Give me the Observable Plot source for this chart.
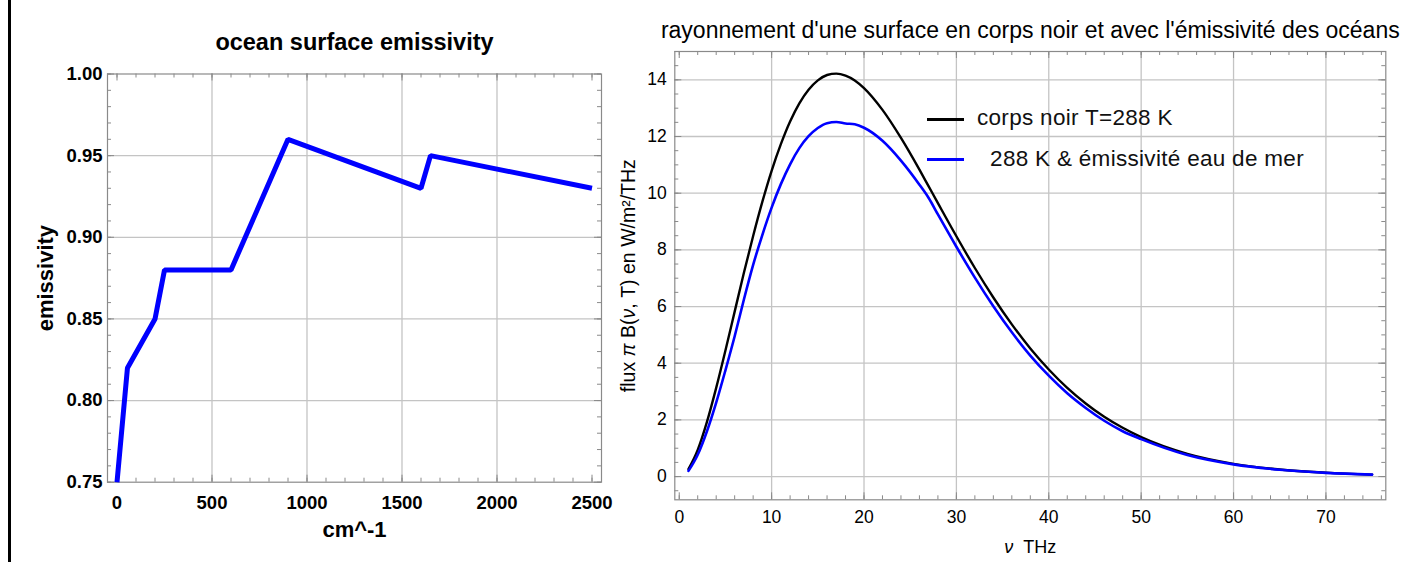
<!DOCTYPE html>
<html><head><meta charset="utf-8">
<script src="https://cdn.jsdelivr.net/npm/d3@7"></script>
<script src="https://cdn.jsdelivr.net/npm/@observablehq/plot@0.6"></script>
<style>
body{margin:0;background:#fff;}
#wrap{position:relative;width:1426px;height:562px;overflow:hidden;background:#fff;font-family:"Liberation Sans",Arial,sans-serif;}
#border{position:absolute;left:8px;top:0;width:2.5px;height:562px;background:#000;}
#left{position:absolute;left:0;top:0;}
#right{position:absolute;left:620px;top:0;}
.legline{position:absolute;height:3px;width:37px;}
.legtext{position:absolute;font-size:22.5px;letter-spacing:0.3px;white-space:pre;line-height:1;color:#111;}
</style></head>
<body>
<div id="wrap">
  <div id="border"></div>
  <div id="left"></div>
  <div id="right"></div>
  <div class="legline" style="left:927px;top:118px;background:#000;"></div>
  <div class="legtext" style="left:977px;top:107px;">corps noir T=288 K</div>
  <div class="legline" style="left:927px;top:158px;background:#0000ff;"></div>
  <div class="legtext" style="left:977px;top:148px;">  288 K &amp; émissivité eau de mer</div>
</div>
<script>
// ---- left panel: ocean surface emissivity ----
const emisWavenumber = [0, 55, 200, 250, 600, 900, 1600, 1650, 2500];
const emisValue      = [0.75, 0.82, 0.85, 0.88, 0.88, 0.96, 0.93, 0.95, 0.93];
const leftXTicks = [0, 500, 1000, 1500, 2000, 2500];
const leftYTicks = [0.75, 0.80, 0.85, 0.90, 0.95, 1.00];
const leftXGrid = [500, 1000, 1500, 2000];
const leftYGrid = [0.80, 0.85, 0.90, 0.95];
const leftTitle = "ocean surface emissivity";
const leftXLabel = "cm^-1";
const leftYLabel = "emissivity";

// ---- right panel: flux ----
const freqTHz = [1,2,3,4,5,6,7,8,9,10,11,12,13,14,15,16,17,18,19,20,22,24,26,27,28,30,32,34,36,38,40,42,44,46,48,50,55,60,65,70,75];
const fluxBlackbody = [0.26,0.94,1.93,3.13,4.45,5.82,7.19,8.49,9.70,10.79,11.73,12.53,13.17,13.65,13.98,14.17,14.22,14.15,13.98,13.71,12.94,11.95,10.83,10.24,9.65,8.48,7.36,6.32,5.37,4.52,3.78,3.13,2.58,2.11,1.72,1.39,0.80,0.45,0.25,0.14,0.07];
const fluxSeawater  = [0.20,0.77,1.60,2.61,3.75,4.95,6.25,7.47,8.53,9.49,10.32,11.02,11.59,12.01,12.30,12.47,12.51,12.46,12.43,12.31,11.85,11.15,10.30,9.83,9.25,8.11,7.02,6.01,5.09,4.27,3.56,2.94,2.42,1.97,1.60,1.32,0.76,0.43,0.24,0.13,0.07];
const rightXTicks = [0, 10, 20, 30, 40, 50, 60, 70];
const rightYTicks = [0, 2, 4, 6, 8, 10, 12, 14];
const rightTitle = "rayonnement d'une surface en corps noir et avec l'émissivité des océans";
const rightXLabel = "ν  THz";
const rightYLabel = "flux π B(ν, T) en W/m²/THz";

const FONT = "Liberation Sans, Arial, sans-serif";
const TICK = "#8a8a8a", GRID = "#c4c4c4";

function frameTicks(xMajor, xMinor, yMajor, yMinor, innerW, innerH) {
  const L = 7, l = 4;
  const m = [];
  const xs = [[xMajor, L], [xMinor, l]], ys = [[yMajor, L], [yMinor, l]];
  for (const [v, len] of xs) {
    m.push(Plot.ruleX(v, {x: d => d, insetTop: innerH - len, stroke: TICK, strokeWidth: 1}));
    m.push(Plot.ruleX(v, {x: d => d, insetBottom: innerH - len, stroke: TICK, strokeWidth: 1}));
  }
  for (const [v, len] of ys) {
    m.push(Plot.ruleY(v, {y: d => d, insetRight: innerW - len, stroke: TICK, strokeWidth: 1}));
    m.push(Plot.ruleY(v, {y: d => d, insetLeft: innerW - len, stroke: TICK, strokeWidth: 1}));
  }
  return m;
}

// Left plot
{
  const W = 620, H = 562, mL = 107, mR = 19, mT = 73.5, mB = 80.3;
  const iW = W - mL - mR, iH = H - mT - mB;
  const data = emisWavenumber.map((x, i) => ({x, y: emisValue[i]}));
  const xMinor = d3.range(0, 2501, 100), yMinor = d3.range(0.75, 1.0001, 0.01);
  const p = Plot.plot({
    width: W, height: H, marginLeft: mL, marginRight: mR, marginTop: mT, marginBottom: mB,
    style: {fontFamily: FONT, background: "transparent", overflow: "visible"},
    x: {domain: [-50, 2550]},
    y: {domain: [0.75, 1.0]},
    marks: [
      Plot.gridX(leftXGrid, {stroke: GRID, strokeOpacity: 1, strokeWidth: 1.3}),
      Plot.gridY(leftYGrid, {stroke: GRID, strokeOpacity: 1, strokeWidth: 1.3}),
      ...frameTicks(leftXTicks, xMinor, leftYTicks, yMinor, iW, iH),
      Plot.frame({stroke: TICK, strokeWidth: 1.2}),
      Plot.axisX(leftXTicks, {tickSize: 0, tickPadding: 14, fontSize: 18.5, fontWeight: "bold", fill: "#000", label: null, tickFormat: d => String(d)}),
      Plot.axisY(leftYTicks, {tickSize: 0, tickPadding: 5, fontSize: 18.5, fontWeight: "bold", fill: "#000", label: null, tickFormat: d3.format(".2f")}),
      Plot.line(data, {x: "x", y: "y", stroke: "#0000ff", strokeWidth: 5, strokeLinejoin: "miter", strokeLinecap: "butt"}),
      Plot.text([leftTitle], {text: d => d, frameAnchor: "top", lineAnchor: "middle", textAnchor: "middle", dy: -31.5, fontSize: 23.5, fontWeight: "bold", fill: "#000"}),
      Plot.text([leftXLabel], {text: d => d, frameAnchor: "bottom", lineAnchor: "middle", textAnchor: "middle", dy: 48, fontSize: 22, fontWeight: "bold", fill: "#000"}),
      Plot.text([leftYLabel], {text: d => d, frameAnchor: "left", lineAnchor: "middle", textAnchor: "middle", dx: -62, rotate: -90, fontSize: 22, fontWeight: "bold", fill: "#000", letterSpacing: 1.5})
    ]
  });
  document.getElementById("left").appendChild(p);
}

// Right plot
{
  const W = 806, H = 562, mL = 54.3, mR = 40.7, mT = 51, mB = 62.7;
  const iW = W - mL - mR, iH = H - mT - mB;
  const bb = freqTHz.map((x, i) => ({x, y: fluxBlackbody[i]}));
  const sw = freqTHz.map((x, i) => ({x, y: fluxSeawater[i]}));
  const xMinor = d3.range(0, 77, 2), yMinor = d3.range(-0.5, 15.01, 0.5);
  const p = Plot.plot({
    width: W, height: H, marginLeft: mL, marginRight: mR, marginTop: mT, marginBottom: mB,
    style: {fontFamily: FONT, background: "transparent", overflow: "visible"},
    x: {domain: [-0.48, 76.48]},
    y: {domain: [-0.82, 15.0]},
    marks: [
      Plot.gridX(rightXTicks.filter(d => d > 0), {stroke: GRID, strokeOpacity: 1, strokeWidth: 1.3}),
      Plot.gridY(rightYTicks, {stroke: GRID, strokeOpacity: 1, strokeWidth: 1.3}),
      ...frameTicks(rightXTicks, xMinor, rightYTicks, yMinor, iW, iH),
      Plot.frame({stroke: TICK, strokeWidth: 1.2}),
      Plot.axisX(rightXTicks, {tickSize: 0, tickPadding: 11, fontSize: 17.5, fill: "#000", label: null, tickFormat: d => String(d)}),
      Plot.axisY(rightYTicks, {tickSize: 0, tickPadding: 8, fontSize: 17.5, fill: "#000", label: null, tickFormat: d => String(d)}),
      Plot.line(bb, {x: "x", y: "y", stroke: "#000", strokeWidth: 2.4, curve: "monotone-x"}),
      Plot.line(sw, {x: "x", y: "y", stroke: "#0000ff", strokeWidth: 2.6, curve: "monotone-x"}),
      Plot.text([rightTitle], {text: d => d, frameAnchor: "top", lineAnchor: "middle", textAnchor: "middle", dy: -21, fontSize: 23, fill: "#000"}),
      Plot.text([rightXLabel], {text: d => d, frameAnchor: "bottom", lineAnchor: "middle", textAnchor: "middle", dy: 47, fontSize: 18, fill: "#000"}),
      Plot.text([rightYLabel], {text: d => d, frameAnchor: "left", lineAnchor: "middle", textAnchor: "middle", dx: -46, rotate: -90, fontSize: 19.5, fill: "#000"})
    ]
  });
  document.getElementById("right").appendChild(p);
  // italic Greek symbols
  p.querySelectorAll("text").forEach(t => {
    if (t.textContent === rightYLabel) {
      t.innerHTML = 'flux <tspan font-style="italic">π</tspan> B(<tspan font-style="italic">ν</tspan>, T) en W/m²/THz';
    } else if (t.textContent === rightXLabel) {
      t.innerHTML = '<tspan font-style="italic">ν</tspan>  THz';
      t.setAttribute("style", "white-space:pre");
    }
  });
}
</script>
</body></html>
